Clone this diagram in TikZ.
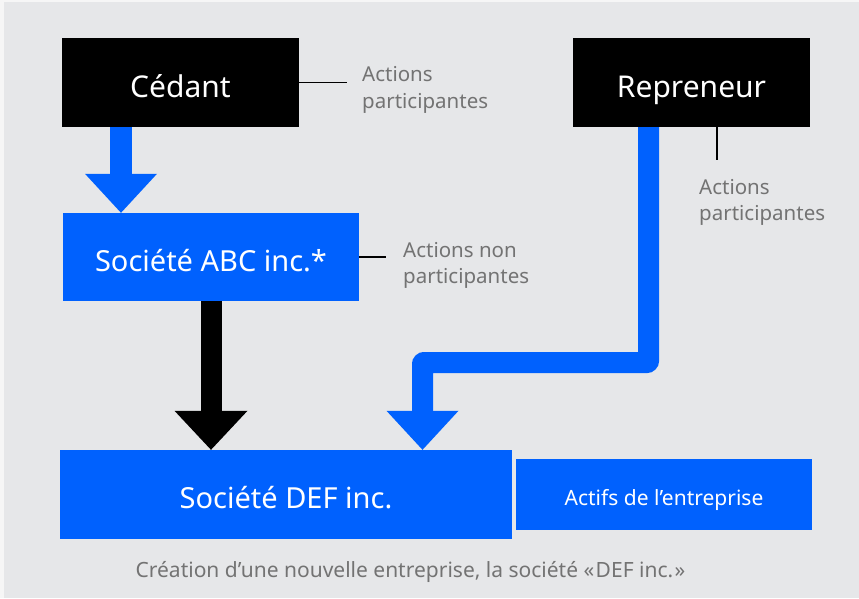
\documentclass[tikz,border=0pt]{standalone}
\usepackage{fontspec}
\setmainfont{Noto Sans}
\usetikzlibrary{arrows.meta, positioning, calc}
\definecolor{corpblue}{HTML}{0061FE}
\definecolor{panelgrey}{HTML}{E6E7E9}
\definecolor{edgegrey}{HTML}{F6F6F6}
\definecolor{notegrey}{HTML}{737373}

\begin{document}
\begin{tikzpicture}[
    x=1pt, y=-1pt,
    party/.style={rectangle, fill=black, text=white, minimum width=237pt, minimum height=89pt, inner sep=0pt, text height=29pt, text depth=0pt, font=\fontsize{30}{36}\selectfont},
    company/.style={rectangle, fill=corpblue, text=white, inner sep=0pt, text depth=0pt, font=\fontsize{29}{34}\selectfont},
    note/.style={align=left, text=notegrey, inner sep=0pt, font=\fontsize{20.5}{26.5}\selectfont},
    tick/.style={line width=1.8pt},
    blockarrow/.style={draw=corpblue, line width=22pt, -{Triangle[length=39pt, width=72pt, line width=0pt]}}
]

% Background
\fill[edgegrey] (0,0) rectangle (859,598);
\fill[panelgrey] (4,2) rectangle (859,598);

% Parties
\node[party] (cedant) at (180.5,82.5) {Cédant};
\node[party] (rep) at (691.5,82.5) {Repreneur};

% Companies
\node[company, minimum width=296pt, minimum height=88pt, text height=28pt] (abc) at (211,257) {Société ABC inc.*};
\node[company, minimum width=452pt, minimum height=89pt, text height=27pt] (def) at (286,494.5) {Société DEF inc.};
\node[company, minimum width=296pt, minimum height=71pt, text height=21pt, font=\fontsize{21}{25}\selectfont] (actifs) at (664,494.5) {Actifs de l’entreprise};

% Notes
\node[note, anchor=west] (noteA) at (362,90) {Actions\\participantes};
\node[note, anchor=west] (noteB) at (403,265.5) {Actions non\\participantes};
\node[note, anchor=west] (noteC) at (699,202.5) {Actions\\participantes};

\draw[tick] (cedant.east) -- ++(48,0);
\draw[tick] (abc.east) -- ++(27,0);
\draw[tick] ($(rep.south)+(25.5,0)$) -- ++(0,33);

% Flows
\coordinate (bend) at (422.5,362.5);
\draw[blockarrow] ($(cedant.south)+(-59.5,0)$) -- ($(abc.north)+(-90,0)$);
\draw[blockarrow, draw=black, line width=21pt, -{Triangle[length=39pt, width=73pt, line width=0pt]}] (abc.south) -- (abc.south |- def.north);
\draw[blockarrow, line width=21pt, line join=round, rounded corners=1pt] ($(rep.south)+(-43,0)$) |- (bend) -- (bend |- def.north);

% Caption
\node[note, align=center, font=\fontsize{21}{26}\selectfont] (caption) at (410.5,572) {Création d’une nouvelle entreprise, la société «\kern1.5pt DEF inc.\kern1.5pt»};

\end{tikzpicture}
\end{document}
